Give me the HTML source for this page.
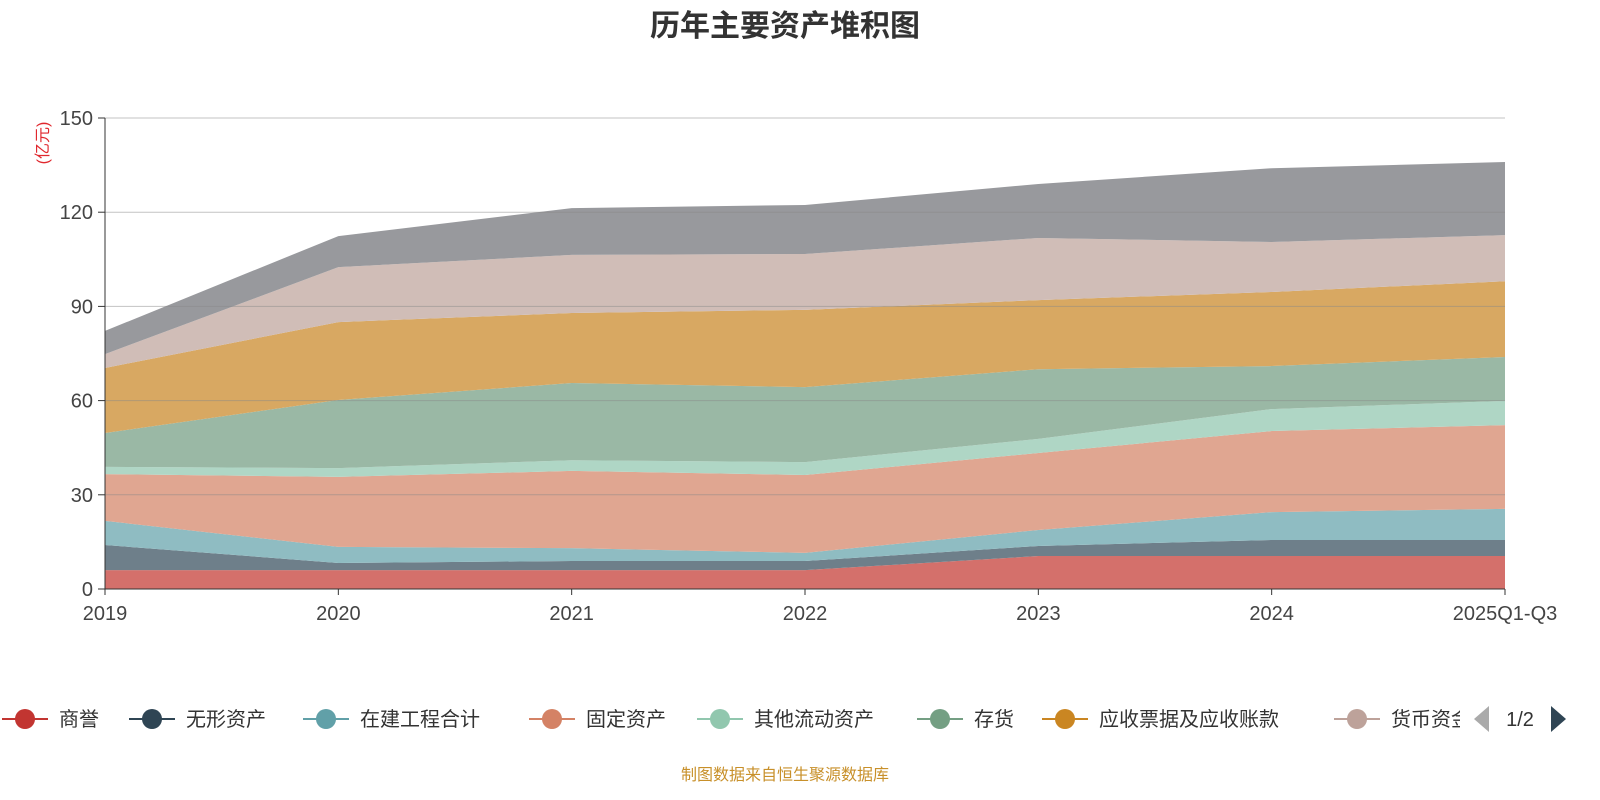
<!DOCTYPE html>
<html><head><meta charset="utf-8"><style>
body{margin:0;background:#fff;}
svg{display:block;font-family:"Liberation Sans","Noto Sans CJK SC",sans-serif;}
</style></head><body>
<svg id="c" width="1600" height="800">
<text x="785" y="36" text-anchor="middle" font-size="30" font-weight="bold" fill="#333">历年主要资产堆积图</text>
<text transform="translate(48,143) rotate(-90)" text-anchor="middle" font-size="16" fill="#e0282e">(亿元)</text>
<text x="785" y="780" text-anchor="middle" font-size="16" fill="#c8902a">制图数据来自恒生聚源数据库</text>
<g id="areas"></g><g id="grid"></g><g id="axes"></g><g id="legend"></g>
</svg>
<script>
const categories=["2019","2020","2021","2022","2023","2024","2025Q1-Q3"];
const seriesNames=["商誉","无形资产","在建工程合计","固定资产","其他流动资产","存货","应收票据及应收账款","货币资金","其他"];
const s0=[6,6,6,6,10.5,10.5,10.5];
const s1=[8,2.3,2.9,2.9,3.2,5.1,5.1];
const s2=[7.7,5.1,4.1,2.6,5.1,8.9,9.9];
const s3=[14.9,22.3,24.6,24.8,24.5,25.8,26.7];
const s4=[2.3,2.8,3.4,4.1,4.5,7,7.7];
const s5=[10.8,21.7,24.6,23.9,22.2,13.7,14];
const s6=[20.7,24.8,22.3,24.6,22,23.6,24.1];
const s7=[4.4,17.5,18.5,17.8,19.8,15.9,14.7];
const s8=[7.4,9.9,14.9,15.6,17.2,23.5,23.3];
const yTicks=[0,30,60,90,120,150];
const areaColors=["#d4706b","#6e7f8a","#8fbcc2","#e0a691","#afd6c5","#9ab8a5","#d8a862","#d0bdb7","#98999d"];
const legendColors=["#c23531","#2f4554","#61a0a8","#d48265","#91c7ae","#749f83","#ca8622","#bda29a"];
const series=[s0,s1,s2,s3,s4,s5,s6,s7,s8];
const NS="http://www.w3.org/2000/svg";
const X0=105,X1=1505,Y0=589,Y1=118;
const xs=i=>X0+(X1-X0)*i/(categories.length-1);
const ys=v=>Y0-(Y0-Y1)*v/150;
function mk(t,a,p){const e=document.createElementNS(NS,t);for(const k in a)e.setAttribute(k,a[k]);p.appendChild(e);return e;}
const areas=document.getElementById('areas');
let base=categories.map(()=>0);
series.forEach((s,si)=>{
  const top=base.map((b,i)=>b+s[i]);
  let d="M"+categories.map((c,i)=>xs(i)+","+ys(top[i])).join("L");
  for(let i=categories.length-1;i>=0;i--)d+="L"+xs(i)+","+ys(base[i]);
  const p=mk('path',{d:d+"Z",fill:areaColors[si]},areas);
  
  
  base=top;
});
const grid=document.getElementById('grid'),axes=document.getElementById('axes');
yTicks.forEach(v=>{
  if(v>0){const l=mk('line',{x1:X0,x2:X1,y1:ys(v),y2:ys(v),stroke:"#888","stroke-opacity":0.5,"stroke-width":1},grid);
  }
  mk('line',{x1:X0-7,x2:X0,y1:ys(v),y2:ys(v),stroke:"#333"},axes);
  const t=mk('text',{x:X0-12,y:ys(v)+7,"text-anchor":"end","font-size":20,fill:"#444"},axes);t.textContent=v;
  
});
mk('line',{x1:X0,x2:X0,y1:Y1,y2:Y0,stroke:"#333"},axes);
mk('line',{x1:X0,x2:X1,y1:Y0,y2:Y0,stroke:"#333"},axes);
categories.forEach((c,i)=>{
  mk('line',{x1:xs(i),x2:xs(i),y1:Y0,y2:Y0+6,stroke:"#333"},axes);
  const t=mk('text',{x:xs(i),y:620,"text-anchor":"middle","font-size":20,fill:"#444"},axes);t.textContent=c;
  
});
const lg=document.getElementById('legend');
const lx=[25,152,326,552,720,940,1065,1357];
seriesNames.slice(0,8).forEach((n,i)=>{
  const g=mk('g',{},lg);
  
  
  mk('line',{x1:lx[i]-23,x2:lx[i]+23,y1:719,y2:719,stroke:legendColors[i],"stroke-width":2},g);
  mk('circle',{cx:lx[i],cy:719,r:10,fill:legendColors[i]},g);
  const t=mk('text',{x:lx[i]+34,y:726,"font-size":20,fill:"#333"},g);t.textContent=n;
});
mk('rect',{x:1460,y:700,width:140,height:40,fill:"#fff"},lg);
const pl=mk('path',{d:"M1489,706L1489,732L1474,719Z",fill:"#aaa"},lg);

const pt=mk('text',{x:1520,y:726,"text-anchor":"middle","font-size":20,fill:"#333"},lg);pt.textContent="1/2";

const pr=mk('path',{d:"M1551,706L1551,732L1566,719Z",fill:"#2f4554"},lg);

</script>
</body></html>
